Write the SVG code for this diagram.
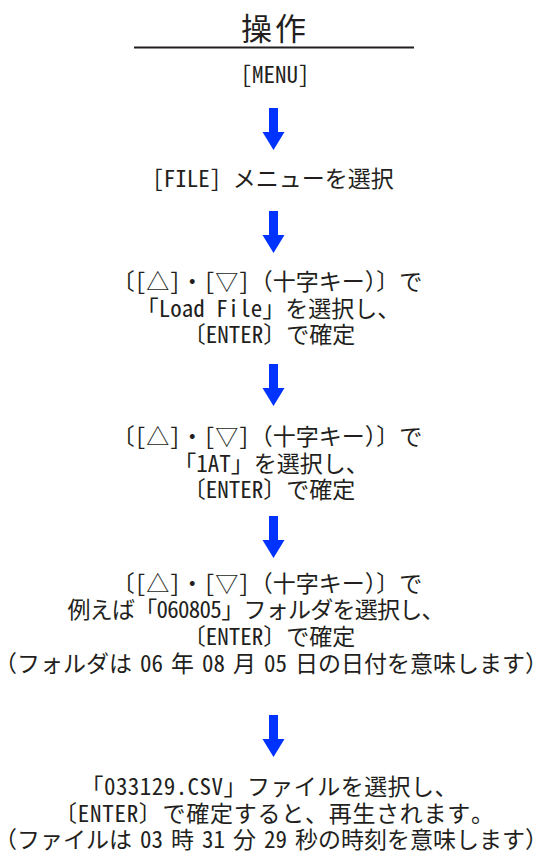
<svg xmlns="http://www.w3.org/2000/svg" width="542" height="852" viewBox="0 0 542 852">
<style>
.t{font-family:"Noto Sans Mono CJK JP","Noto Sans CJK JP",sans-serif;font-size:23px;fill:#231f20;text-anchor:middle}
.h{font-family:"Noto Sans CJK JP",sans-serif;font-size:31px;fill:#231f20;text-anchor:middle;letter-spacing:3px}
.a{fill:#0033ff}
</style>
<defs>
<path id="arr" d="M-4.5,0 H4.5 V24 H11 L0,42 L-11,24 H-4.5 Z"/>
</defs>
<rect width="542" height="852" fill="#ffffff"/>
<g id="title">
<text class="h" x="275" y="39.5">操作</text>
<line x1="134" y1="47.5" x2="414" y2="47.5" stroke="#231f20" stroke-width="2"/>
</g>
<g id="node-menu"><text class="t" x="275" y="83">[MENU]</text></g>
<g id="node-file"><text class="t" x="273" y="187">[FILE] メニューを選択</text></g>
<g id="node-loadfile">
<text class="t" x="267" y="290">〔[△]・[▽]（十字キー）〕で</text>
<text class="t" x="268" y="316.5">「Load File」を選択し、</text>
<text class="t" x="269" y="343">〔ENTER〕で確定</text>
</g>
<g id="node-1at">
<text class="t" x="267" y="445">〔[△]・[▽]（十字キー）〕で</text>
<text class="t" x="271" y="471.5">「1AT」を選択し、</text>
<text class="t" x="269" y="498">〔ENTER〕で確定</text>
</g>
<g id="node-folder">
<text class="t" x="267" y="591.5">〔[△]・[▽]（十字キー）〕で</text>
<text class="t" x="256" y="618" textLength="377" lengthAdjust="spacing">例えば「060805」フォルダを選択し、</text>
<text class="t" x="269" y="645">〔ENTER〕で確定</text>
<text class="t" x="271" y="672">（フォルダは<tspan dx="8">06</tspan><tspan dx="8">年</tspan><tspan dx="8">08</tspan><tspan dx="8">月</tspan><tspan dx="8">05</tspan><tspan dx="8">日の日付を意味します）</tspan></text>
</g>
<g id="node-csv">
<text class="t" x="269" y="795" textLength="377" lengthAdjust="spacing">「033129.CSV」ファイルを選択し、</text>
<text class="t" x="274" y="822" textLength="440" lengthAdjust="spacing">〔ENTER〕で確定すると、再生されます。</text>
<text class="t" x="271" y="848">（ファイルは<tspan dx="8">03</tspan><tspan dx="8">時</tspan><tspan dx="8">31</tspan><tspan dx="8">分</tspan><tspan dx="8">29</tspan><tspan dx="8">秒の時刻を意味します）</tspan></text>
</g>
<g id="connectors" class="a">
<use href="#arr" x="273.5" y="108"/>
<use href="#arr" x="273.5" y="211"/>
<use href="#arr" x="273.5" y="364"/>
<use href="#arr" x="273.5" y="516"/>
<use href="#arr" x="273.5" y="715"/>
</g>
</svg>
